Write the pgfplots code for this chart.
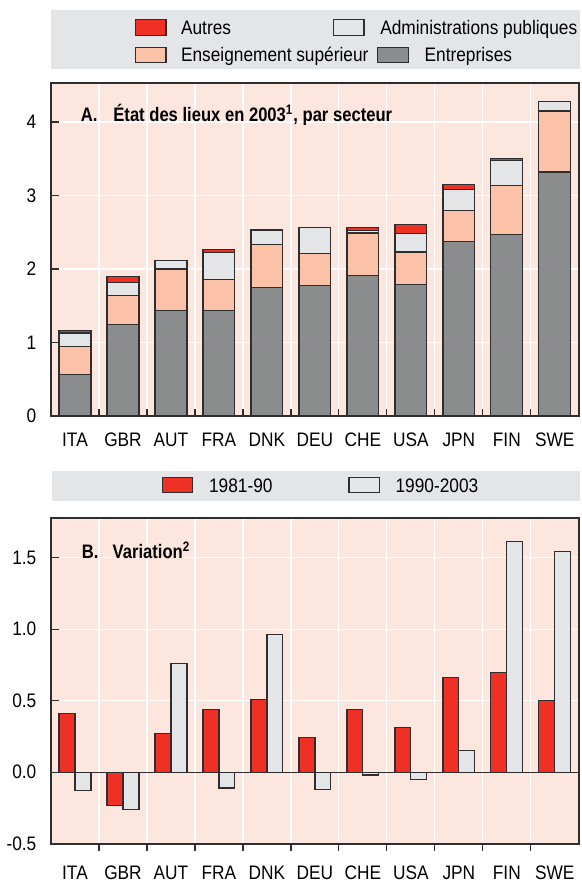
\documentclass[border=0pt]{standalone}
\usepackage{pgfplots}
\pgfplotsset{compat=1.18}
\usepackage{fontspec}
\setmainfont{Liberation Sans}[FakeStretch=0.885]
\newfontfamily\titlefont{Liberation Sans}[FakeStretch=0.85]
\definecolor{cRed}{HTML}{EE3124}
\definecolor{cSalmon}{HTML}{FBC2A8}
\definecolor{cLight}{HTML}{E4E5E7}
\definecolor{cDark}{HTML}{8B8C8E}
\definecolor{cBg}{HTML}{FDE6DD}
\definecolor{cLeg}{HTML}{E4E5E7}
\definecolor{cFrame}{HTML}{2E2E2E}
\pgfplotsset{
  panel/.style={
    scale only axis,
    width=270.25pt,
    xmin=-0.5, xmax=10.5,
    axis background/.style={fill=cBg},
    xtick={0,...,10},
    xticklabels={ITA,GBR,AUT,FRA,DNK,DEU,CHE,USA,JPN,FIN,SWE},
    minor xtick={0.5,1.5,...,9.5},
    tick align=inside,
    tick pos=left,
    major tick length=4pt,
    minor tick length=3.6pt,
    major x tick style={draw=none},
    minor x tick style={cFrame, line width=0.6pt},
    y tick style={cFrame, line width=0.6pt},
    xminorgrids=true, ymajorgrids=true,
    grid style={white, line width=0.6pt},
    minor grid style={white, line width=0.6pt},
    axis line style={cFrame, line width=1pt},
    /pgf/number format/assume math mode=true,
    yticklabel style={xshift=-4pt},
    every axis plot/.append style={draw=cFrame, line width=0.6pt},
  }
}
\begin{document}
\fontsize{10}{12}\selectfont
\begin{tikzpicture}
\begin{scope}[x=0.5pt,y=-0.5pt]
\useasboundingbox (0,0) rectangle (590,886);
% legend A
\fill[cLeg] (51,10) rectangle (592,70.7);
\draw[cFrame, line width=0.6pt, fill=cRed] (136.7,20) rectangle (168.3,36);
\node[anchor=base west, inner sep=0] at (183.3,35) {Autres};
\draw[cFrame, line width=0.6pt, fill=cSalmon] (136.7,49) rectangle (168.3,64.3);
\node[anchor=base west, inner sep=0] at (183.3,63.3) {Enseignement supérieur};
\draw[cFrame, line width=0.6pt, fill=cLight] (340,20) rectangle (371,36);
\node[anchor=base west, inner sep=0] at (387.3,35) {Administrations publiques};
\draw[cFrame, line width=0.6pt, fill=cDark] (385,49) rectangle (416.7,64.3);
\node[anchor=base west, inner sep=0] at (432.7,63.3) {Entreprises};
% legend B
\fill[cLeg] (51.7,482) rectangle (592,512.7);
\draw[cFrame, line width=0.6pt, fill=cRed] (164.3,489.3) rectangle (195.7,504.3);
\node[anchor=base west, inner sep=0] at (212,504.3) {1981-90};
\draw[cFrame, line width=0.6pt, fill=cLight] (355.7,489.3) rectangle (386.7,504.3);
\node[anchor=base west, inner sep=0] at (403,504.3) {1990-2003};
\end{scope}

\begin{axis}[panel,
  at={(25.25pt,-213pt)}, anchor=south west,
  height=170.5pt,
  ymin=0, ymax=4.53,
  ytick={0,1,2,3,4},
  xticklabel style={yshift=-5.2pt},
  ybar stacked, bar width=0.665,
]
\addplot[fill=cDark] coordinates {(0,0.56) (1,1.25) (2,1.43) (3,1.43) (4,1.75) (5,1.78) (6,1.91) (7,1.79) (8,2.37) (9,2.47) (10,3.32)};
\addplot[fill=cSalmon] coordinates {(0,0.38) (1,0.39) (2,0.57) (3,0.43) (4,0.58) (5,0.43) (6,0.58) (7,0.44) (8,0.43) (9,0.67) (10,0.83)};
\addplot[fill=cLight] coordinates {(0,0.19) (1,0.18) (2,0.12) (3,0.36) (4,0.19) (5,0.35) (6,0.03) (7,0.25) (8,0.28) (9,0.34) (10,0.13)};
\addplot[fill=cRed] coordinates {(0,0.03) (1,0.08) (2,0) (3,0.04) (4,0.01) (5,0) (6,0.05) (7,0.12) (8,0.07) (9,0.02) (10,0)};
\end{axis}

\begin{axis}[panel,
  at={(25.25pt,-432pt)}, anchor=south west,
  height=167pt,
  ymin=-0.5, ymax=1.78,
  ytick={-0.5,0,0.5,1,1.5},
  yticklabel style={/pgf/number format/.cd, fixed, fixed zerofill, precision=1},
  xticklabel style={yshift=-3.7pt},
  ybar, bar width=0.3325,
]
\addplot[fill=cRed, bar shift=-0.16625] coordinates {(0,0.41) (1,-0.23) (2,0.27) (3,0.44) (4,0.51) (5,0.24) (6,0.44) (7,0.31) (8,0.66) (9,0.695) (10,0.50)};
\addplot[fill=cLight, bar shift=0.16625] coordinates {(0,-0.13) (1,-0.26) (2,0.76) (3,-0.11) (4,0.96) (5,-0.12) (6,-0.02) (7,-0.05) (8,0.15) (9,1.61) (10,1.545)};
\draw[cFrame, line width=0.6pt] (axis cs:-0.5,0) -- (axis cs:10.5,0);
\end{axis}

\begin{scope}[x=0.5pt,y=-0.5pt]
\node[anchor=base west, inner sep=0, font=\titlefont\bfseries] at (80.7,124) {A.};
\node[anchor=base west, inner sep=0, font=\titlefont\bfseries] at (114,124) {État des lieux en 2003\textsuperscript{1}, par secteur};
\node[anchor=base west, inner sep=0, font=\titlefont\bfseries] at (81.7,571.7) {B.};
\node[anchor=base west, inner sep=0, font=\titlefont\bfseries] at (113.3,571.7) {Variation\textsuperscript{2}};
\end{scope}
\end{tikzpicture}
\end{document}
